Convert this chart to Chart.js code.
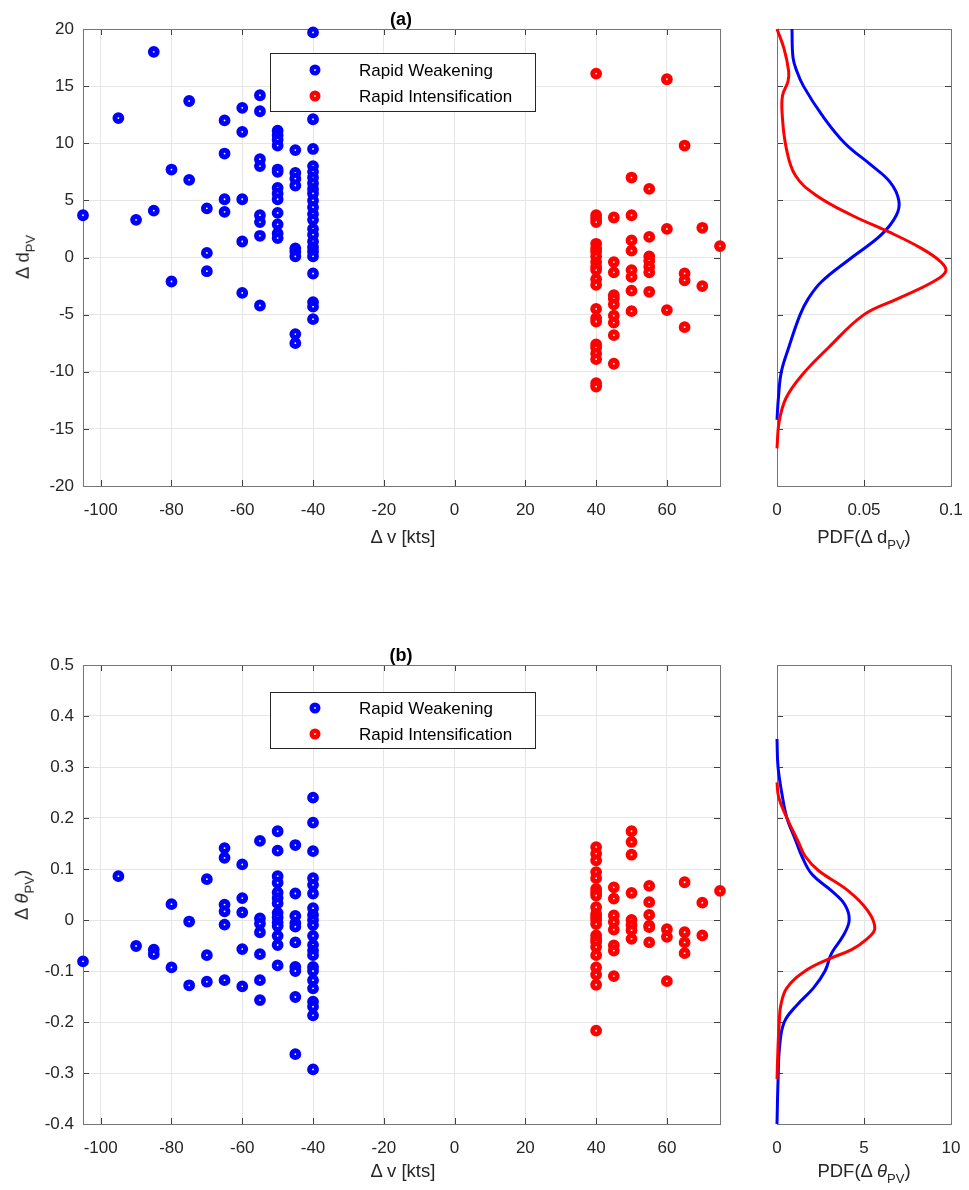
<!DOCTYPE html>
<html>
<head>
<meta charset="utf-8">
<script src="https://cdn.jsdelivr.net/npm/chart.js@4.4.0/dist/chart.umd.min.js"></script>
<style>
  body { margin: 0; background: #fff; }
  #fig { position: relative; width: 969px; height: 1190px; overflow: hidden;
         font-family: "Liberation Sans", Arial, sans-serif; color: #262626; }
  .pane { position: absolute; }
  .lbl { position: absolute; transform: translate(-50%, -50%); white-space: nowrap; font-size: 18.5px; line-height: 1; }
  .rot { transform: translate(-50%, -50%) rotate(-90deg); }
  .ttl { font-weight: bold; color: #000; font-size: 18px; }
  sub { font-size: 13px; vertical-align: -6px; line-height: 0; }
</style>
</head>
<body>
<div id="fig">
  <div class="pane" style="left:0;top:0;width:735px;height:560px"><canvas id="scatterA"></canvas></div>
  <div class="pane" style="left:735px;top:0;width:234px;height:560px"><canvas id="pdfA"></canvas></div>
  <div class="pane" style="left:0;top:620px;width:735px;height:570px"><canvas id="scatterB"></canvas></div>
  <div class="pane" style="left:735px;top:620px;width:234px;height:570px"><canvas id="pdfB"></canvas></div>

  <div class="lbl ttl" style="left:401px;top:19px">(a)</div>
  <div class="lbl" style="left:403px;top:537px">&Delta; v [kts]</div>
  <div class="lbl" style="left:864px;top:537px">PDF(&Delta; d<sub>PV</sub>)</div>
  <div class="lbl rot" style="left:23px;top:257px">&Delta; d<sub>PV</sub></div>

  <div class="lbl ttl" style="left:401px;top:655px">(b)</div>
  <div class="lbl" style="left:403px;top:1171px">&Delta; v [kts]</div>
  <div class="lbl" style="left:864px;top:1171px">PDF(&Delta; <i>&theta;</i><sub>PV</sub>)</div>
  <div class="lbl rot" style="left:22px;top:895px">&Delta; <i>&theta;</i><sub>PV</sub>)</div>
</div>

<script>
// --- tick values ---
const dvTicks = [-100, -80, -60, -40, -20, 0, 20, 40, 60];
const dpvTicks = [-20, -15, -10, -5, 0, 5, 10, 15, 20];
const thetaTicks = [-0.4, -0.3, -0.2, -0.1, 0, 0.1, 0.2, 0.3, 0.4, 0.5];
const pdfDpvTicks = [0, 0.05, 0.1];
const pdfThetaTicks = [0, 5, 10];

// --- (a) scatter: [delta v, delta d_PV] ---
const weakA = [
  [-105, 3.7], [-95, 12.2], [-90, 3.3], [-85, 18.0], [-85, 4.1], [-80, 7.7], [-80, -2.1],
  [-75, 13.7], [-75, 6.8], [-70, 4.3], [-70, 0.4], [-70, -1.2],
  [-65, 12.0], [-65, 9.1], [-65, 5.1], [-65, 4.0],
  [-60, 13.1], [-60, 11.0], [-60, 5.1], [-60, 1.4], [-60, -3.1],
  [-55, 14.2], [-55, 12.8], [-55, 8.6], [-55, 8.0], [-55, 3.7], [-55, 3.1], [-55, 1.9], [-55, -4.2],
  [-50, 11.1], [-50, 10.7], [-50, 10.3], [-50, 9.8], [-50, 7.7], [-50, 7.5], [-50, 6.1], [-50, 5.6],
  [-50, 5.1], [-50, 3.9], [-50, 2.9], [-50, 2.1], [-50, 1.7],
  [-45, 9.4], [-45, 7.4], [-45, 6.9], [-45, 6.3], [-45, 0.8], [-45, 0.5], [-45, 0.1], [-45, -6.7], [-45, -7.5],
  [-40, 19.7], [-40, 12.1], [-40, 9.5], [-40, 8.0], [-40, 7.5], [-40, 7.0], [-40, 6.5], [-40, 6.0],
  [-40, 5.6], [-40, 5.0], [-40, 4.4], [-40, 3.8], [-40, 3.3], [-40, 2.5], [-40, 2.0], [-40, 1.4],
  [-40, 0.9], [-40, 0.5], [-40, 0.1], [-40, -1.4], [-40, -3.9], [-40, -4.3], [-40, -5.4]
];
const intA = [
  [40, 16.1], [40, 3.7], [40, 3.4], [40, 3.1], [40, 1.2], [40, 0.8], [40, 0.5], [40, 0.1], [40, -0.4],
  [40, -0.8], [40, -1.1], [40, -1.9], [40, -2.4], [40, -4.5], [40, -5.3], [40, -5.6], [40, -7.6],
  [40, -7.9], [40, -8.4], [40, -8.9], [40, -11.0], [40, -11.3],
  [45, 3.5], [45, -0.4], [45, -1.3], [45, -3.3], [45, -3.6], [45, -4.1], [45, -5.1], [45, -5.7], [45, -6.8], [45, -9.3],
  [50, 7.0], [50, 3.7], [50, 1.5], [50, 0.6], [50, -1.1], [50, -1.7], [50, -2.9], [50, -4.7],
  [55, 6.0], [55, 1.8], [55, 0.1], [55, -0.3], [55, -0.8], [55, -1.3], [55, -3.0],
  [60, 15.6], [60, 2.5], [60, -4.6],
  [65, 9.8], [65, -1.4], [65, -2.0], [65, -6.1],
  [70, 2.6], [70, -2.5],
  [75, 1.0]
];

// --- (b) scatter: [delta v, delta theta_PV] ---
const weakB = [
  [-105, -0.081], [-95, 0.086], [-90, -0.051], [-85, -0.058], [-85, -0.067], [-80, 0.031], [-80, -0.093],
  [-75, -0.003], [-75, -0.128], [-70, 0.080], [-70, -0.069], [-70, -0.121],
  [-65, 0.141], [-65, 0.122], [-65, 0.030], [-65, 0.017], [-65, -0.009], [-65, -0.118],
  [-60, 0.109], [-60, 0.043], [-60, 0.015], [-60, -0.057], [-60, -0.130],
  [-55, 0.155], [-55, 0.003], [-55, -0.007], [-55, -0.024], [-55, -0.067], [-55, -0.118], [-55, -0.157],
  [-50, 0.174], [-50, 0.136], [-50, 0.086], [-50, 0.073], [-50, 0.054], [-50, 0.043], [-50, 0.033],
  [-50, 0.014], [-50, 0.005], [-50, -0.005], [-50, -0.012], [-50, -0.031], [-50, -0.049], [-50, -0.089],
  [-45, 0.147], [-45, 0.052], [-45, 0.008], [-45, -0.006], [-45, -0.013], [-45, -0.044], [-45, -0.092],
  [-45, -0.100], [-45, -0.151], [-45, -0.263],
  [-40, 0.240], [-40, 0.191], [-40, 0.135], [-40, 0.082], [-40, 0.069], [-40, 0.052], [-40, 0.023],
  [-40, 0.010], [-40, 0.000], [-40, -0.010], [-40, -0.031], [-40, -0.049], [-40, -0.060], [-40, -0.069],
  [-40, -0.092], [-40, -0.100], [-40, -0.118], [-40, -0.134], [-40, -0.160], [-40, -0.170], [-40, -0.187], [-40, -0.293]
];
const intB = [
  [40, 0.143], [40, 0.130], [40, 0.117], [40, 0.094], [40, 0.082], [40, 0.061], [40, 0.054], [40, 0.048],
  [40, 0.025], [40, 0.012], [40, 0.006], [40, 0.000], [40, -0.008], [40, -0.030], [40, -0.037], [40, -0.043],
  [40, -0.053], [40, -0.069], [40, -0.093], [40, -0.107], [40, -0.127], [40, -0.217],
  [45, 0.064], [45, 0.042], [45, 0.009], [45, -0.004], [45, -0.019], [45, -0.050], [45, -0.060], [45, -0.110],
  [50, 0.174], [50, 0.153], [50, 0.128], [50, 0.053], [50, 0.000], [50, -0.010], [50, -0.020], [50, -0.037],
  [55, 0.067], [55, 0.035], [55, 0.010], [55, -0.011], [55, -0.014], [55, -0.044],
  [60, -0.018], [60, -0.033], [60, -0.120],
  [65, 0.074], [65, -0.024], [65, -0.044], [65, -0.065],
  [70, 0.034], [70, -0.030],
  [75, 0.057]
];

// --- PDF curves: level and density ---
const pdfWeakA_y = [20, 17.5, 16.3, 15, 12.5, 10, 8.1, 6.6, 5, 3.7, 2, 0, -2.1, -3.6, -5, -7.9, -10, -12.3, -14.2];
const pdfWeakA_f = [0.0086, 0.0092, 0.0114, 0.0152, 0.0257, 0.039, 0.054, 0.065, 0.070, 0.0686, 0.060, 0.043, 0.0257, 0.018, 0.0133, 0.0067, 0.0025, 0.0008, 0];
const pdfIntA_y = [20, 18.3, 16.3, 15.4, 14.2, 12.5, 9.6, 7.2, 5.5, 3.7, 2.26, 0.8, -0.36, -1.2, -2.1, -3.6, -5, -7.9, -10.3, -12.3, -14.4, -16.7];
const pdfIntA_f = [0, 0.004, 0.0067, 0.0063, 0.0032, 0.003, 0.0053, 0.0105, 0.022, 0.043, 0.064, 0.083, 0.094, 0.097, 0.090, 0.0695, 0.050, 0.0295, 0.0143, 0.0052, 0.0012, 0];

const pdfWeakB_y = [0.355, 0.30, 0.246, 0.2, 0.158, 0.125, 0.09, 0.057, 0.03, 0, -0.031, -0.065, -0.1, -0.133, -0.167, -0.2, -0.248, -0.315, -0.4];
const pdfWeakB_f = [0, 0.06, 0.29, 0.57, 1.05, 1.43, 2.0, 3.14, 3.9, 4.15, 3.8, 3.14, 2.76, 2.1, 1.14, 0.42, 0.15, 0.06, 0];
const pdfIntB_y = [0.27, 0.24, 0.2, 0.152, 0.125, 0.097, 0.057, 0.017, -0.017, -0.038, -0.058, -0.078, -0.1, -0.133, -0.167, -0.2, -0.248, -0.312];
const pdfIntB_f = [0, 0.1, 0.57, 1.24, 1.62, 2.38, 4.1, 5.24, 5.62, 5.14, 4.29, 2.86, 1.62, 0.57, 0.22, 0.13, 0.06, 0];

const BLUE = '#0000ff';
const RED = '#ff0000';
const FONT = '"Liberation Sans", Arial, sans-serif';
const tickFont = { family: FONT, size: 17 };

// draws the MATLAB style box with inward ticks, under the data
const boxTicks = {
  id: 'boxTicks',
  beforeDatasetsDraw(chart) {
    const { ctx, chartArea: a, scales } = chart;
    ctx.save();
    ctx.lineWidth = 1;
    ctx.strokeStyle = '#404040';
    ctx.beginPath();
    scales.x.ticks.forEach(t => {
      const px = Math.round(scales.x.getPixelForValue(t.value)) + 0.5;
      ctx.moveTo(px, a.bottom); ctx.lineTo(px, a.bottom - 6);
      ctx.moveTo(px, a.top); ctx.lineTo(px, a.top + 6);
    });
    scales.y.ticks.forEach(t => {
      const py = Math.round(scales.y.getPixelForValue(t.value)) + 0.5;
      ctx.moveTo(a.left, py); ctx.lineTo(a.left + 6, py);
      ctx.moveTo(a.right, py); ctx.lineTo(a.right - 6, py);
    });
    ctx.stroke();
    ctx.strokeStyle = '#767676';
    ctx.strokeRect(Math.round(a.left) + 0.5, Math.round(a.top) + 0.5, Math.round(a.width), Math.round(a.height));
    ctx.restore();
  }
};

// legend box drawn inside the scatter axes
const boxLegend = {
  id: 'boxLegend',
  afterDraw(chart, args, o) {
    if (!o || !o.w) return;
    const ctx = chart.ctx;
    ctx.save();
    ctx.fillStyle = '#fff';
    ctx.fillRect(o.x, o.y, o.w, o.h);
    ctx.strokeStyle = '#262626';
    ctx.lineWidth = 1;
    ctx.strokeRect(o.x + 0.5, o.y + 0.5, o.w, o.h);
    chart.data.datasets.forEach((ds, i) => {
      const cy = o.y + o.row0 + i * o.rowGap;
      ctx.beginPath();
      ctx.arc(o.mx, cy, 3.2, 0, Math.PI * 2);
      ctx.fillStyle = '#fff';
      ctx.fill();
      ctx.lineWidth = 4.6;
      ctx.strokeStyle = ds.borderColor;
      ctx.stroke();
      ctx.fillStyle = '#000';
      ctx.font = '17px ' + FONT;
      ctx.textBaseline = 'middle';
      ctx.fillText(ds.label, o.tx, cy + 1);
    });
    ctx.restore();
  }
};

const fixedTicks = values => scale => { scale.ticks = values.map(v => ({ value: v })); };
const fmt = v => String(Math.round(v * 100) / 100);
const toPts = pairs => pairs.map(p => ({ x: p[0], y: p[1] }));
const curve = (f, y) => y.map((v, i) => ({ x: f[i], y: v }));

// keep the plot box where it is: no extra room for edge tick labels
const fitX = h => s => { s.height = h; s.paddingLeft = 0; s.paddingRight = 0; };
const fitY = w => s => { s.width = w; s.paddingTop = 0; s.paddingBottom = 0; };

function axis(min, max, ticks, extra, tickPad) {
  return Object.assign({
    type: 'linear', min, max,
    afterBuildTicks: fixedTicks(ticks),
    grid: { color: '#e6e6e6', drawTicks: false },
    border: { display: false },
    ticks: { font: tickFont, color: '#262626', callback: fmt, padding: tickPad }
  }, extra);
}

function makeScatter(id, weak, inten, yMin, yMax, yTicks, padTop, xHeight, legend) {
  const marker = color => ({
    borderColor: color, backgroundColor: '#ffffff',
    pointRadius: 3.4, pointBorderWidth: 5, pointHoverRadius: 3.4, clip: false
  });
  return new Chart(document.getElementById(id), {
    type: 'scatter',
    data: {
      datasets: [
        Object.assign({ label: 'Rapid Weakening', data: toPts(weak) }, marker(BLUE)),
        Object.assign({ label: 'Rapid Intensification', data: toPts(inten) }, marker(RED))
      ]
    },
    options: {
      responsive: true, maintainAspectRatio: false, animation: false,
      layout: { padding: { top: padTop, right: 15, left: 0, bottom: 0 } },
      plugins: { legend: { display: false }, tooltip: { enabled: false }, boxLegend: legend },
      scales: {
        x: axis(-105, 75, dvTicks, { afterFit: fitX(xHeight) }, 14),
        y: axis(yMin, yMax, yTicks, { afterFit: fitY(83) }, 9)
      }
    },
    plugins: [boxTicks, boxLegend]
  });
}

function makePdf(id, weakF, weakY, intF, intY, xMax, xTicks, yMin, yMax, yTicks, padTop, xHeight) {
  const line = color => ({
    showLine: true, borderColor: color, borderWidth: 3, pointRadius: 0,
    pointHoverRadius: 0, tension: 0.4, clip: false
  });
  const yAxis = axis(yMin, yMax, yTicks, { afterFit: fitY(42) }, 9);
  yAxis.ticks.display = false;
  return new Chart(document.getElementById(id), {
    type: 'scatter',
    data: {
      datasets: [
        Object.assign({ label: 'Rapid Intensification', data: curve(intF, intY) }, line(RED)),
        Object.assign({ label: 'Rapid Weakening', data: curve(weakF, weakY) }, line(BLUE))
      ]
    },
    options: {
      responsive: true, maintainAspectRatio: false, animation: false,
      layout: { padding: { top: padTop, right: 18, left: 0, bottom: 0 } },
      plugins: { legend: { display: false }, tooltip: { enabled: false } },
      scales: {
        x: axis(0, xMax, xTicks, { afterFit: fitX(xHeight) }, 14),
        y: yAxis
      }
    },
    plugins: [boxTicks]
  });
}

Chart.defaults.font.family = FONT;

const legendA = { x: 270, y: 53, w: 265, h: 58, row0: 17, rowGap: 26, mx: 315, tx: 359 };
const legendB = { x: 270, y: 72, w: 265, h: 56, row0: 16, rowGap: 26, mx: 315, tx: 359 };

makeScatter('scatterA', weakA, intA, -20, 20, dpvTicks, 29, 560 - 486, legendA);
makeScatter('scatterB', weakB, intB, -0.4, 0.5, thetaTicks, 45, 570 - 504, legendB);
makePdf('pdfA', pdfWeakA_f, pdfWeakA_y, pdfIntA_f, pdfIntA_y, 0.1, pdfDpvTicks, -20, 20, dpvTicks, 29, 560 - 486);
makePdf('pdfB', pdfWeakB_f, pdfWeakB_y, pdfIntB_f, pdfIntB_y, 10, pdfThetaTicks, -0.4, 0.5, thetaTicks, 45, 570 - 504);
</script>
</body>
</html>
